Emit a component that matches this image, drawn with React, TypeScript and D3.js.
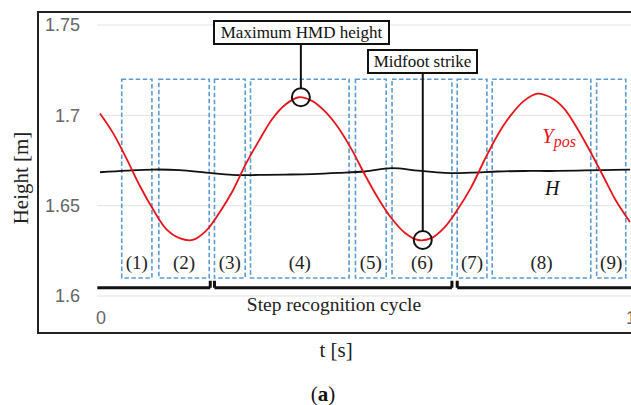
import React from "react";
import * as d3 from "d3";

// sample times (s) for the HMD height trace
const times = [
  0, 0.025, 0.05, 0.075, 0.1, 0.125, 0.15, 0.175, 0.2, 0.225,
  0.25, 0.275, 0.3, 0.325, 0.35, 0.375, 0.4, 0.425, 0.45, 0.475,
  0.5, 0.525, 0.55, 0.575, 0.6, 0.625, 0.65, 0.675, 0.7, 0.725,
  0.75, 0.775, 0.8, 0.825, 0.85, 0.875, 0.9, 0.925, 0.95, 0.975, 1.0,
];
// Y_pos (red)
const yPos = [
  1.701, 1.690, 1.676, 1.661, 1.648, 1.637, 1.632, 1.631, 1.636, 1.646,
  1.658, 1.673, 1.686, 1.698, 1.706, 1.710, 1.708, 1.702, 1.693, 1.681,
  1.667, 1.654, 1.643, 1.635, 1.631, 1.632, 1.638, 1.648, 1.660, 1.675,
  1.689, 1.700, 1.708, 1.712, 1.710, 1.704, 1.693, 1.680, 1.666, 1.652, 1.641,
];
// H (black), coarser samples
const hTimes = [
  0, 0.05, 0.1, 0.15, 0.2, 0.25, 0.3, 0.35, 0.4, 0.45,
  0.5, 0.55, 0.6, 0.65, 0.7, 0.75, 0.8, 0.85, 0.9, 0.95, 1.0,
];
const hValues = [
  1.6685, 1.6694, 1.6700, 1.6697, 1.6683, 1.6670, 1.6670, 1.6672, 1.6675, 1.6681,
  1.6689, 1.6708, 1.6694, 1.6681, 1.6683, 1.6689, 1.6692, 1.6692, 1.6694, 1.6697, 1.6700,
];

const yTicks = [1.6, 1.65, 1.7, 1.75];
const yTickLabels = ["1.6", "1.65", "1.7", "1.75"];
const xTicks = [0, 1];

// dashed phase windows
const boxStart = [0.041, 0.111, 0.216, 0.284, 0.482, 0.551, 0.674, 0.740, 0.937];
const boxEnd = [0.098, 0.206, 0.274, 0.470, 0.540, 0.664, 0.730, 0.926, 0.992];
const boxLabels = ["(1)", "(2)", "(3)", "(4)", "(5)", "(6)", "(7)", "(8)", "(9)"];
const boxTop = 1.72;
const boxBottom = 1.61;

// step recognition brackets
const bracketStart = [-0.005, 0.216, 0.674];
const bracketEnd = [0.208, 0.664, 1.03];
const bracketLevel = 1.6045;

const maxPoint = { t: 0.379, v: 1.710 };
const minPoint = { t: 0.609, v: 1.631 };

const serif = "'Liberation Serif', serif";
const sans = "'Liberation Sans', Arial, sans-serif";

export default function App() {
  const width = 631, height = 405;
  const x = d3.scaleLinear().domain([0, 1]).range([100, 630]);
  const y = d3.scaleLinear().domain([1.6, 1.75]).range([296, 25]);

  const line = d3.line<number>()
    .x((d, i) => x(times[i]))
    .y(d => y(d))
    .curve(d3.curveCatmullRom);
  const hLine = d3.line<number>()
    .x((d, i) => x(hTimes[i]))
    .y(d => y(d))
    .curve(d3.curveCatmullRom);

  const by = y(bracketLevel);

  return (
    <svg width={width} height={height} style={{ position: "absolute", left: 0, top: 0, background: "#fff" }}>
      {/* frame */}
      <rect x={38} y={12} width={640} height={321} fill="#fff" stroke="#222" strokeWidth={2} />

      {/* gridlines + y ticks */}
      {yTicks.map((t, i) => (
        <g key={t}>
          <line x1={97} x2={631} y1={y(t)} y2={y(t)} stroke="#e3e3e3" strokeWidth={1} />
          <text x={80} y={y(t)} dy="0.35em" textAnchor="end" fontFamily={sans} fontSize={18} fill="#666">
            {yTickLabels[i]}
          </text>
        </g>
      ))}
      {xTicks.map(t => (
        <text key={t} x={x(t) + 1} y={318} dy="0.35em" textAnchor="middle" fontFamily={sans} fontSize={18} fill="#666">
          {t}
        </text>
      ))}

      {/* dashed windows */}
      {boxStart.map((s, i) => (
        <g key={i}>
          <rect x={x(s)} y={y(boxTop)} width={x(boxEnd[i]) - x(s)} height={y(boxBottom) - y(boxTop)}
            fill="none" stroke="#5b9bd5" strokeWidth={1.6} strokeDasharray="4.5,2.5" />
          <text x={(x(s) + x(boxEnd[i])) / 2} y={269} textAnchor="middle" fontFamily={serif} fontSize={19} fill="#222">
            {boxLabels[i]}
          </text>
        </g>
      ))}

      {/* series */}
      <path d={hLine(hValues) || ""} fill="none" stroke="#111" strokeWidth={1.8} />
      <path d={line(yPos) || ""} fill="none" stroke="#e8141b" strokeWidth={1.8} />

      {/* brackets */}
      {bracketStart.map((s, i) => (
        <path key={i}
          d={`M${x(s)},${by} H${x(bracketEnd[i])}` +
            (i > 0 ? ` M${x(s)},${by} V${by - 7}` : "") +
            (i < 2 ? ` M${x(bracketEnd[i])},${by} V${by - 7}` : "")}
          fill="none" stroke="#111" strokeWidth={3} />
      ))}
      <text x={334} y={311} textAnchor="middle" fontFamily={serif} fontSize={19.5} fill="#222">
        Step recognition cycle
      </text>

      {/* annotations */}
      <line x1={x(maxPoint.t)} x2={x(maxPoint.t)} y1={44} y2={y(maxPoint.v) - 9} stroke="#111" strokeWidth={2} />
      <circle cx={x(maxPoint.t)} cy={y(maxPoint.v)} r={9} fill="none" stroke="#111" strokeWidth={2} />
      <rect x={214} y={21} width={175} height={23} fill="#fff" stroke="#111" strokeWidth={2} />
      <text x={301.5} y={38} textAnchor="middle" fontFamily={serif} fontSize={17} fill="#111">Maximum HMD height</text>

      <line x1={x(minPoint.t)} x2={x(minPoint.t)} y1={72} y2={y(minPoint.v) - 9} stroke="#111" strokeWidth={2} />
      <circle cx={x(minPoint.t)} cy={y(minPoint.v)} r={9} fill="none" stroke="#111" strokeWidth={2} />
      <rect x={368} y={50} width={109} height={23} fill="#fff" stroke="#111" strokeWidth={2} />
      <text x={422.5} y={67} textAnchor="middle" fontFamily={serif} fontSize={17} fill="#111">Midfoot strike</text>

      {/* series labels */}
      <text x={542} y={143} fontFamily={serif} fontStyle="italic" fontSize={21} fill="#e8141b">
        Y<tspan fontSize={16} dy={4}>pos</tspan>
      </text>
      <text x={545} y={195} fontFamily={serif} fontStyle="italic" fontSize={20} fill="#111">H</text>

      {/* axis titles */}
      <text transform="translate(28,178) rotate(-90)" textAnchor="middle" fontFamily={serif} fontSize={21} fill="#222">
        Height [m]
      </text>
      <text x={336} y={357} textAnchor="middle" fontFamily={serif} fontSize={21} fill="#222">t [s]</text>
      <text x={323} y={401} textAnchor="middle" fontFamily={serif} fontSize={21} fill="#111">
        (<tspan fontWeight="bold">a</tspan>)
      </text>
    </svg>
  );
}
